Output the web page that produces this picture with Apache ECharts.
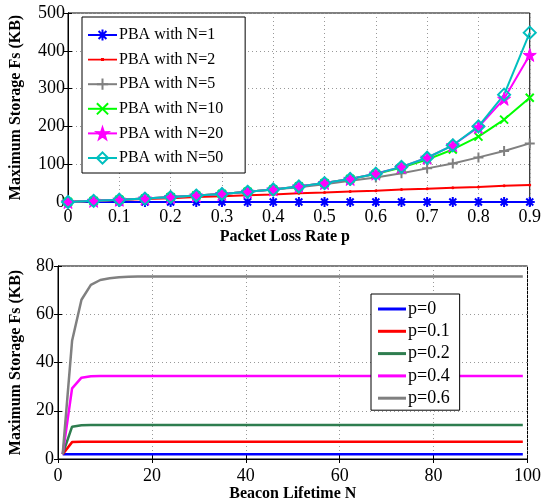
<!DOCTYPE html>
<html><head><meta charset="utf-8">
<script src="https://cdn.jsdelivr.net/npm/echarts@6/dist/echarts.min.js"></script>
<style>html,body{margin:0;padding:0;background:#fff}#c{width:544px;height:503px}</style>
</head><body><div id="c"></div><script>
// ---- Top chart data: Maximum storage vs packet loss rate ----
const lossRates = [0,0.05,0.1,0.15,0.2,0.25,0.3,0.35,0.4,0.45,0.5,0.55,0.6,0.65,0.7,0.75,0.8,0.85,0.9];
const fsN1  = [0,0,0,0,0,0,0,0,0,0,0,0,0,0,0,0,0,0,0];
const fsN2  = [0,3,5,8,10,13,15,18,20,23,25,28,30,33,35,38,40,43,45];
const fsN5  = [0,3,6,9,12,17,21,27,33,39,47,56,65,76,89,102,118,135,155];
const fsN10 = [0,3,6,9,13,17,21,27,33,41,50,61,74,91,112,139,173,218,276];
const fsN20 = [0,3,6,9,13,17,21,27,33,41,50,61,75,93,117,150,198,273,389];
const fsN50 = [0,3,6,9,13,17,21,27,33,41,50,61,75,93,117,150,200,284,448];
const topNames = ['PBA with N=1','PBA with N=2','PBA with N=5','PBA with N=10','PBA with N=20','PBA with N=50'];

// ---- Bottom chart data: Maximum storage vs beacon lifetime ----
const lifetimes = [1,3,5,7,9,11,13,15,17,19,21,23,25,27,29,31,33,35,37,39,41,43,45,47,49,
                   51,53,55,57,59,61,63,65,67,69,71,73,75,77,79,81,83,85,87,89,91,93,95,97,99];
const fsP0  = [2,2,2,2,2,2,2,2,2,2,2,2,2,2,2,2,2,2,2,2,2,2,2,2,2,
               2,2,2,2,2,2,2,2,2,2,2,2,2,2,2,2,2,2,2,2,2,2,2,2,2];
const fsP01 = [2,7.0,7.2,7.2,7.2,7.2,7.2,7.2,7.2,7.2,7.2,7.2,7.2,7.2,7.2,7.2,7.2,7.2,7.2,7.2,7.2,7.2,7.2,7.2,7.2,
               7.2,7.2,7.2,7.2,7.2,7.2,7.2,7.2,7.2,7.2,7.2,7.2,7.2,7.2,7.2,7.2,7.2,7.2,7.2,7.2,7.2,7.2,7.2,7.2,7.2];
const fsP02 = [2,13.4,14.0,14.1,14.1,14.1,14.1,14.1,14.1,14.1,14.1,14.1,14.1,14.1,14.1,14.1,14.1,14.1,14.1,14.1,14.1,14.1,14.1,14.1,14.1,
               14.1,14.1,14.1,14.1,14.1,14.1,14.1,14.1,14.1,14.1,14.1,14.1,14.1,14.1,14.1,14.1,14.1,14.1,14.1,14.1,14.1,14.1,14.1,14.1,14.1];
const fsP04 = [2,29.3,33.7,34.3,34.4,34.4,34.4,34.4,34.4,34.4,34.4,34.4,34.4,34.4,34.4,34.4,34.4,34.4,34.4,34.4,34.4,34.4,34.4,34.4,34.4,
               34.4,34.4,34.4,34.4,34.4,34.4,34.4,34.4,34.4,34.4,34.4,34.4,34.4,34.4,34.4,34.4,34.4,34.4,34.4,34.4,34.4,34.4,34.4,34.4,34.4];
const fsP06 = [2,49,66,72.2,74.2,74.9,75.3,75.5,75.6,75.6,75.6,75.6,75.6,75.6,75.6,75.6,75.6,75.6,75.6,75.6,75.6,75.6,75.6,75.6,75.6,
               75.6,75.6,75.6,75.6,75.6,75.6,75.6,75.6,75.6,75.6,75.6,75.6,75.6,75.6,75.6,75.6,75.6,75.6,75.6,75.6,75.6,75.6,75.6,75.6,75.6];
const bottomNames = ['p=0','p=0.1','p=0.2','p=0.4','p=0.6'];

const SERIF = '"Liberation Serif","DejaVu Serif",serif';
const pairs = (xs, ys) => xs.map((x, i) => [x, ys[i]]);

const ASTER = 'path://M0,5 L10,5 M5,0 L5,10 M1.5,1.5 L8.5,8.5 M8.5,1.5 L1.5,8.5';
const PLUS = 'path://M0,5 L10,5 M5,0 L5,10';
const CROSS = 'path://M0,0 L10,10 M10,0 L0,10';
const STAR = 'path://M50,0 L61.8,35.1 L97.6,34.5 L68.8,55.9 L79.4,90.5 L50,69.5 L20.6,90.5 L31.2,55.9 L2.4,34.5 L38.2,35.1 Z';
const DIAM = 'path://M5,0 L10,5 L5,10 L0,5 Z';
const DOTLINE = 'path://M0,4.1 L29,4.1 L29,5.9 L0,5.9 Z M13,3.5 L16,3.5 L16,6.5 L13,6.5 Z';

function topSeries(name, data, color, symbol, size, fill, bw) {
  return {
    name, type: 'line', xAxisIndex: 0, yAxisIndex: 0,
    data: pairs(lossRates, data),
    symbol, symbolSize: size, showAllSymbol: true,
    lineStyle: { color, width: 2 },
    itemStyle: { color: fill, borderColor: color, borderWidth: bw },
    emphasis: { disabled: true }, animation: false
  };
}
function bottomSeries(name, data, color) {
  return {
    name, type: 'line', xAxisIndex: 2, yAxisIndex: 2,
    data: pairs(lifetimes, data),
    symbol: 'none', showSymbol: false,
    lineStyle: { color, width: 2.5 },
    itemStyle: { color },
    emphasis: { disabled: true }, animation: false
  };
}

const tickStyle = { show: true, inside: true, length: 4, lineStyle: { color: '#000', width: 1 } };
const axisLbl = { color: '#000', fontFamily: SERIF, fontSize: 18 };
const split = { show: true, lineStyle: { color: '#999', type: [1, 3], width: 1 } };
const nameStyle = { color: '#000', fontFamily: SERIF, fontSize: 16, fontWeight: 'bold' };

function mirrorAxis(gridIndex, position, min, max, interval) {
  return { type: 'value', gridIndex, position, min, max, interval,
    axisLine: { show: true, lineStyle: { color: '#000' } },
    axisTick: tickStyle, axisLabel: { show: false }, splitLine: { show: false } };
}

const topLegendData = topNames.map((n, i) => i === 1 ? { name: n, icon: DOTLINE } : { name: n });
const bottomLegendData = bottomNames.map(n => ({ name: n, icon: 'rect' }));

const option = {
  backgroundColor: '#fff',
  animation: false,
  grid: [
    { left: 66, top: 13, right: 13, bottom: 301, show: true, borderColor: '#000', borderWidth: 1, backgroundColor: '#fff' },
    { left: 57, top: 266, right: 16, bottom: 44, show: true, borderColor: '#000', borderWidth: 1, backgroundColor: '#fff' }
  ],
  xAxis: [
    { type: 'value', gridIndex: 0, min: 0, max: 0.9, interval: 0.1,
      axisLine: { show: true, lineStyle: { color: '#000' } }, axisTick: tickStyle,
      axisLabel: Object.assign({ margin: 6, formatter: v => String(+v.toFixed(2)) }, axisLbl),
      splitLine: split,
      name: 'Packet Loss Rate p', nameLocation: 'middle', nameGap: 27,
      nameTextStyle: Object.assign({ padding: [0, 28, 0, 0] }, nameStyle) },
    mirrorAxis(0, 'top', 0, 0.9, 0.1),
    { type: 'value', gridIndex: 1, min: 0, max: 100, interval: 20,
      axisLine: { show: true, lineStyle: { color: '#000' } }, axisTick: tickStyle,
      axisLabel: Object.assign({ margin: 8 }, axisLbl),
      splitLine: split,
      name: 'Beacon Lifetime N', nameLocation: 'middle', nameGap: 22,
      nameTextStyle: nameStyle },
    mirrorAxis(1, 'top', 0, 100, 20)
  ],
  yAxis: [
    { type: 'value', gridIndex: 0, min: 0, max: 500, interval: 100,
      axisLine: { show: true, lineStyle: { color: '#000' } }, axisTick: tickStyle,
      axisLabel: Object.assign({ margin: 3 }, axisLbl),
      splitLine: split,
      name: 'Maximum Storage Fs (KB)', nameLocation: 'middle', nameGap: 44,
      nameTextStyle: nameStyle },
    mirrorAxis(0, 'right', 0, 500, 100),
    { type: 'value', gridIndex: 1, min: 0, max: 80, interval: 20,
      axisLine: { show: true, lineStyle: { color: '#000' } }, axisTick: tickStyle,
      axisLabel: Object.assign({ margin: 4 }, axisLbl),
      splitLine: split,
      name: 'Maximum Storage Fs (KB)', nameLocation: 'middle', nameGap: 34,
      nameTextStyle: nameStyle },
    mirrorAxis(1, 'right', 0, 80, 20)
  ],
  legend: [
    { data: topLegendData, orient: 'vertical', left: 82, top: 17,
      padding: [9, 22, 6, 5], itemWidth: 29, itemHeight: 14, itemGap: 6.6,
      backgroundColor: '#fff', borderColor: '#000', borderWidth: 1,
      textStyle: { color: '#000', fontFamily: SERIF, fontSize: 16, lineHeight: 18, padding: [0, 0, 0, -3] },
      selectedMode: false },
    { data: bottomLegendData, orient: 'vertical', left: 371, top: 294,
      padding: [5, 10, 2, 7], itemWidth: 28, itemHeight: 3, itemGap: 2.3,
      backgroundColor: '#fff', borderColor: '#000', borderWidth: 1,
      textStyle: { color: '#000', fontFamily: SERIF, fontSize: 18, lineHeight: 20, padding: [0, 0, 0, -3] },
      selectedMode: false }
  ],
  series: [
    topSeries(topNames[0], fsN1, '#0000ff', ASTER, 10, 'none', 2),
    topSeries(topNames[1], fsN2, '#ff0000', 'circle', 3, '#ff0000', 0),
    topSeries(topNames[2], fsN5, '#808080', PLUS, 10, 'none', 2),
    topSeries(topNames[3], fsN10, '#00ff00', CROSS, 8, 'none', 2),
    topSeries(topNames[4], fsN20, '#ff00ff', STAR, 13, '#ff00ff', 1),
    topSeries(topNames[5], fsN50, '#00bfbf', DIAM, 12, 'none', 2),
    bottomSeries(bottomNames[0], fsP0, '#0000ff'),
    bottomSeries(bottomNames[1], fsP01, '#ff0000'),
    bottomSeries(bottomNames[2], fsP02, '#2e7d4f'),
    bottomSeries(bottomNames[3], fsP04, '#ff00ff'),
    bottomSeries(bottomNames[4], fsP06, '#808080')
  ]
};
const chart = echarts.init(document.getElementById('c'), null, { renderer: 'canvas' });
chart.setOption(option);
</script></body></html>
